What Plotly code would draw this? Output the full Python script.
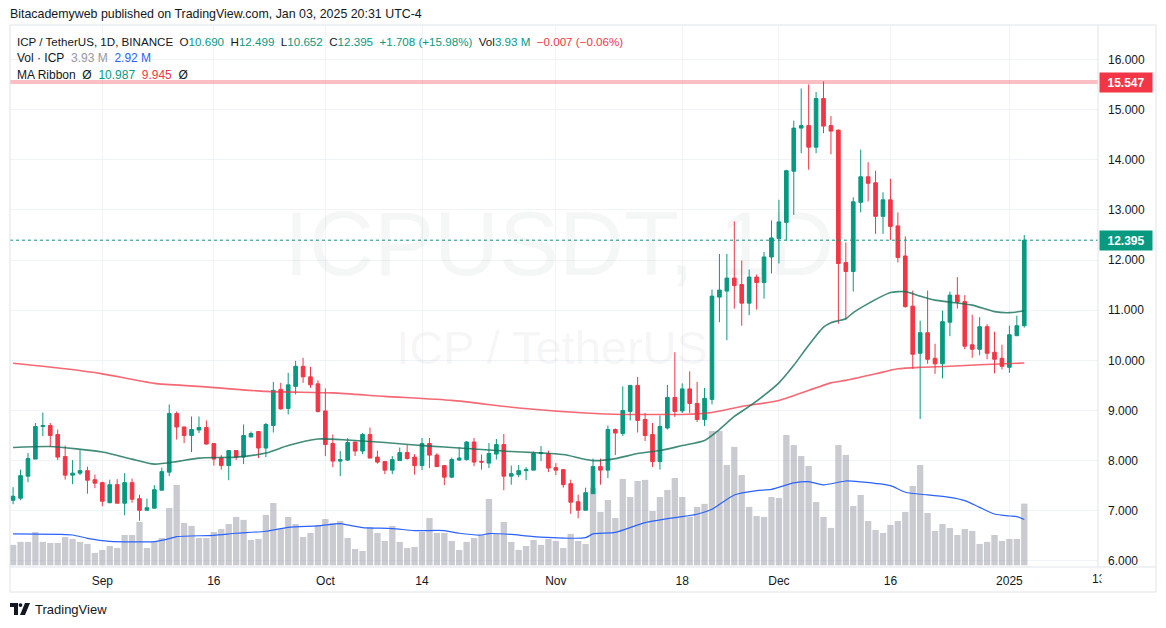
import pandas as pd
import plotly.graph_objects as go

# ---------------- data ----------------
dates = pd.date_range("2024-08-20", "2025-01-03", freq="D")

opens = [7.21, 7.25, 7.69, 8.03, 8.68, 8.70, 8.52, 8.08, 7.71, 7.75,
         7.80, 7.62, 7.56, 7.16, 7.52, 7.15, 7.56, 7.24, 7.01, 7.05,
         7.41, 7.77, 8.94, 8.67, 8.50, 8.61, 8.66, 8.34, 8.05, 7.90,
         8.20, 8.07, 8.47, 8.58, 8.25, 8.70, 9.42, 9.04, 9.48, 9.88,
         9.67, 9.53, 8.99, 8.34, 7.99, 8.01, 8.37, 8.19, 8.52, 8.07,
         7.98, 7.81, 8.00, 8.16, 8.07, 7.90, 8.34, 8.11, 7.90, 7.67,
         8.01, 8.02, 8.37, 7.985, 7.95, 8.13, 8.32, 7.69, 7.72, 7.80,
         7.81, 8.14, 8.14, 7.86, 7.82, 7.54, 7.18, 7.01, 7.34, 7.88,
         7.81, 8.62, 8.54, 8.98, 9.50, 8.82, 8.52, 7.98, 8.65, 9.26,
         8.99, 9.43, 9.14, 8.82, 9.22, 11.26, 11.38, 11.64, 11.51, 11.14,
         11.66, 11.55, 12.06, 12.43, 12.75, 13.77, 14.63, 14.68, 14.25, 15.22,
         14.68, 14.59, 11.95, 11.77, 13.15, 13.66, 13.54, 12.87, 13.20, 12.68,
         12.08, 11.08, 10.14, 10.55, 10.04, 9.93, 10.76, 11.30, 11.17, 10.31,
         10.22, 10.67, 10.16, 10.04, 9.86, 10.49, 10.690]
highs = [7.47, 7.82, 8.15, 8.75, 8.96, 8.75, 8.62, 8.30, 8.01, 8.21,
         7.88, 7.72, 7.58, 7.62, 7.63, 7.75, 7.64, 7.32, 7.24, 7.51,
         7.86, 9.12, 8.98, 8.68, 8.88, 8.88, 8.80, 8.34, 8.11, 8.20,
         8.20, 8.72, 8.58, 8.58, 8.75, 9.57, 9.55, 9.75, 9.99, 10.05,
         9.87, 9.60, 9.44, 8.52, 8.19, 8.45, 8.37, 8.55, 8.66, 8.20,
         7.98, 8.09, 8.26, 8.31, 8.13, 8.45, 8.45, 8.15, 7.90, 8.06,
         8.27, 8.39, 8.45, 8.12, 8.35, 8.43, 8.53, 7.90, 7.91, 7.87,
         8.18, 8.29, 8.20, 7.95, 7.82, 7.62, 7.32, 7.46, 8.04, 8.04,
         8.70, 8.64, 9.48, 9.50, 9.67, 8.95, 8.75, 8.90, 9.51, 10.16,
         9.54, 9.78, 9.57, 9.45, 11.41, 12.12, 12.12, 12.77, 11.99, 11.81,
         11.71, 12.16, 12.79, 13.20, 13.80, 14.78, 15.42, 15.50, 15.35, 15.56,
         14.87, 14.60, 12.35, 13.25, 14.20, 13.95, 13.78, 13.35, 13.62, 12.95,
         12.47, 11.39, 10.79, 11.39, 10.33, 10.99, 11.37, 11.66, 11.30, 10.91,
         10.86, 10.72, 10.57, 10.31, 10.69, 10.89, 12.499]
lows = [7.13, 7.21, 7.57, 8.03, 8.49, 8.27, 8.01, 7.62, 7.53, 7.71,
        7.34, 7.45, 7.09, 7.15, 7.15, 6.91, 7.16, 6.80, 7.00, 7.05,
        7.41, 7.69, 8.42, 8.35, 8.17, 8.55, 8.32, 7.90, 7.82, 7.61,
        8.01, 7.93, 8.47, 8.05, 8.07, 8.56, 9.02, 8.92, 9.32, 9.55,
        9.45, 8.96, 8.09, 7.87, 7.69, 7.99, 8.09, 8.13, 8.05, 7.94,
        7.73, 7.73, 8.00, 8.02, 7.72, 7.81, 7.85, 7.87, 7.51, 7.65,
        8.00, 8.00, 7.89, 7.82, 7.85, 8.02, 7.41, 7.52, 7.67, 7.61,
        7.81, 7.99, 7.77, 7.71, 7.46, 6.94, 6.85, 7.01, 7.34, 7.52,
        7.65, 8.11, 8.49, 8.80, 8.56, 8.39, 7.87, 7.82, 8.62, 8.87,
        8.95, 8.95, 8.77, 8.69, 9.12, 10.76, 10.40, 11.03, 10.69, 10.90,
        11.01, 11.23, 11.73, 11.93, 12.39, 12.90, 14.13, 13.80, 14.13, 14.53,
        14.11, 10.73, 10.81, 11.37, 12.95, 13.17, 12.52, 12.52, 12.40, 11.95,
        11.05, 9.83, 8.83, 9.93, 9.73, 9.64, 10.48, 11.03, 10.22, 10.05,
        10.10, 10.02, 9.74, 9.82, 9.75, 10.49, 10.652]
closes = [7.29, 7.70, 8.04, 8.68, 8.70, 8.50, 8.07, 7.71, 7.75, 7.80,
          7.61, 7.55, 7.19, 7.52, 7.15, 7.56, 7.23, 7.01, 7.06, 7.42,
          7.78, 8.94, 8.67, 8.50, 8.62, 8.66, 8.33, 8.03, 7.90, 8.20,
          8.07, 8.50, 8.54, 8.25, 8.72, 9.40, 9.03, 9.51, 9.88, 9.67,
          9.51, 8.98, 8.32, 7.99, 8.02, 8.36, 8.19, 8.52, 8.05, 7.97,
          7.81, 8.02, 8.16, 8.04, 7.90, 8.34, 8.11, 7.88, 7.67, 8.02,
          8.05, 8.37, 7.97, 7.97, 8.14, 8.32, 7.69, 7.74, 7.80, 7.82,
          8.14, 8.16, 7.85, 7.81, 7.52, 7.17, 7.01, 7.36, 7.88, 7.81,
          8.62, 8.55, 9.00, 9.50, 8.80, 8.50, 7.98, 8.68, 9.26, 8.98,
          9.43, 9.14, 8.82, 9.24, 11.28, 11.40, 11.64, 11.49, 11.14, 11.66,
          11.55, 12.06, 12.44, 12.76, 13.78, 14.63, 14.68, 14.25, 15.22, 14.67,
          14.57, 11.93, 11.77, 13.16, 13.66, 13.53, 12.87, 13.20, 12.67, 12.05,
          11.07, 10.12, 10.55, 10.02, 9.93, 10.77, 11.30, 11.16, 10.28, 10.22,
          10.67, 10.14, 10.02, 9.88, 10.51, 10.69, 12.395]
volumes_m = [1.30, 1.49, 1.49, 2.12, 1.49, 1.42, 1.42, 1.80, 1.68, 1.49,
             1.36, 0.79, 0.98, 1.23, 1.10, 1.93, 1.93, 2.76, 1.10, 1.49,
             1.74, 3.65, 5.12, 2.70, 2.51, 1.74, 1.74, 2.12, 2.31, 2.63,
             3.08, 2.89, 1.61, 1.68, 3.21, 3.97, 2.31, 3.08, 2.63, 1.80,
             2.06, 2.57, 2.95, 2.70, 2.82, 1.74, 1.04, 0.91, 2.44, 2.06,
             1.55, 2.51, 1.49, 1.10, 1.17, 2.12, 3.01, 2.06, 2.06, 1.55,
             0.98, 1.49, 1.74, 1.93, 4.23, 2.00, 2.76, 1.49, 0.98, 1.23,
             1.61, 1.30, 1.68, 1.55, 1.10, 2.00, 1.55, 1.36, 4.93, 3.40,
             4.16, 3.01, 5.50, 4.35, 5.37, 5.44, 3.46, 4.35, 4.80, 5.56,
             4.35, 3.10, 3.72, 3.91, 8.56, 8.56, 6.39, 7.54, 5.75, 3.72,
             3.14, 3.08, 4.35, 4.29, 8.30, 7.66, 6.96, 6.33, 4.03, 3.08,
             2.38, 7.66, 7.03, 3.78, 4.48, 2.82, 2.25, 2.06, 2.57, 2.82,
             3.40, 5.05, 6.39, 3.33, 2.19, 2.63, 2.38, 1.93, 2.31, 2.19,
             1.36, 1.49, 1.93, 1.55, 1.68, 1.68, 3.93]

# MA ribbon (fast, green) sampled at day index
ma_fast_idx = [0, 5, 12, 16, 19, 22, 25, 30, 34, 37, 41, 45, 50, 54, 58, 63, 67, 70, 74,
               78, 81, 84, 87, 90, 93, 95, 97, 99, 101, 103, 105, 107, 109, 110, 111, 112,
               113, 115, 118, 120, 122, 124, 126, 129, 132, 134, 136]
ma_fast_val = [8.26, 8.28, 8.17, 8.03, 7.93, 7.98, 8.05, 8.07, 8.15, 8.30, 8.43, 8.41, 8.36,
               8.31, 8.27, 8.22, 8.18, 8.16, 8.12, 8.00, 8.04, 8.14, 8.20, 8.30, 8.40, 8.62,
               8.88, 9.08, 9.30, 9.55, 9.90, 10.30, 10.66, 10.75, 10.79, 10.83, 10.95, 11.13,
               11.35, 11.37, 11.28, 11.20, 11.16, 11.10, 10.97, 10.95, 10.987]
# MA ribbon (slow, red)
ma_slow_idx = [0, 7, 12, 19, 25, 34, 43, 50, 59, 68, 77, 82, 86, 90, 94, 98, 103, 110,
               112, 116, 119, 122, 126, 130, 136]
ma_slow_val = [9.94, 9.83, 9.73, 9.54, 9.48, 9.38, 9.35, 9.28, 9.20, 9.05, 8.95, 8.92, 8.92,
               8.92, 8.96, 9.08, 9.20, 9.55, 9.60, 9.73, 9.83, 9.86, 9.88, 9.91, 9.945]
# Volume MA (blue), millions
vol_ma_idx = [0, 8, 10, 13, 19, 21, 22, 27, 30, 34, 37, 41, 44, 45, 47, 51, 54, 58, 60, 63,
              64, 67, 70, 77, 78, 81, 85, 89, 92, 94, 97, 100, 102, 105, 107, 109, 112, 114,
              118, 120, 123, 126, 128, 130, 132, 134, 135, 136]
vol_ma_val = [2.00, 1.93, 1.72, 1.53, 1.51, 1.70, 1.83, 1.91, 2.04, 2.17, 2.42, 2.51, 2.65,
              2.57, 2.40, 2.34, 2.21, 2.21, 2.04, 1.93, 2.02, 1.97, 1.83, 1.76, 2.00, 2.10,
              2.72, 3.04, 3.25, 3.57, 4.48, 4.76, 4.84, 5.25, 5.33, 5.12, 5.37, 5.31, 5.07,
              4.65, 4.48, 4.33, 4.12, 3.69, 3.27, 3.14, 3.10, 2.92]

x_tick_dates = ["2024-09-01", "2024-09-16", "2024-10-01", "2024-10-14", "2024-11-01",
                "2024-11-18", "2024-12-01", "2024-12-16", "2025-01-01"]
x_tick_text = ["Sep", "16", "Oct", "14", "Nov", "18", "Dec", "16", "2025"]
price_ticks = [6, 7, 8, 9, 10, 11, 12, 13, 14, 15, 16]
last_price = 12.395
level_price = 15.547

# ---------------- geometry / style ----------------
W, H = 1166, 628
PL, PR, PT, PB = 10, 1098, 25, 567
FR_R, FR_B = 1156, 592
X0_PX, DAY_PX = 13.1, 7.435
Y10_PX, PX_PER_UNIT = 360.3, 50.15
VOL_BASE, VOL_PX = 565.3, 15.7

GREEN = "#089981"
RED = "#f23645"
TXT = "#131722"
GRID = "#f0f3fa"
BORDER = "#e0e3eb"
FONT = "Liberation Sans, Arial, sans-serif"

def px_date(x):
    return dates[0] + pd.Timedelta(days=(x - X0_PX) / DAY_PX)

def y_price(y):
    return 10 - (y - Y10_PX) / PX_PER_UNIT

def y_vol(y):
    return (VOL_BASE - y) / VOL_PX

def xp(x):
    return x / W

def yp(y):
    return 1 - y / H

fig = go.Figure()

# watermark (behind everything)
fig.add_trace(go.Scatter(x=[px_date(559)], y=[y_vol(252)], mode="text", text=["ICPUSDT, 1D"],
                         textfont=dict(family=FONT, size=90, color="rgba(120,123,134,0.07)"),
                         hoverinfo="skip", yaxis="y"))
fig.add_trace(go.Scatter(x=[px_date(552)], y=[y_vol(352)], mode="text", text=["ICP / TetherUS"],
                         textfont=dict(family=FONT, size=47, color="rgba(120,123,134,0.07)"),
                         hoverinfo="skip", yaxis="y"))

# volume
fig.add_trace(go.Bar(x=dates, y=volumes_m, marker=dict(color="rgba(149,152,161,0.5)", line_width=0),
                     yaxis="y", hoverinfo="skip"))
fig.add_trace(go.Scatter(x=[dates[i] for i in vol_ma_idx], y=vol_ma_val, mode="lines",
                         line=dict(color="#2962ff", width=1.2, shape="spline", smoothing=0.6),
                         yaxis="y", hoverinfo="skip"))

# MA ribbon
fig.add_trace(go.Scatter(x=[dates[i] for i in ma_slow_idx], y=ma_slow_val, mode="lines",
                         line=dict(color="rgba(242,54,69,0.75)", width=1.6, shape="spline", smoothing=0.6),
                         yaxis="y2", hoverinfo="skip"))
fig.add_trace(go.Scatter(x=[dates[i] for i in ma_fast_idx], y=ma_fast_val, mode="lines",
                         line=dict(color="rgba(18,110,88,0.8)", width=1.6, shape="spline", smoothing=0.6),
                         yaxis="y2", hoverinfo="skip"))

# candles
fig.add_trace(go.Candlestick(x=dates, open=opens, high=highs, low=lows, close=closes,
                             increasing=dict(line=dict(color=GREEN, width=1), fillcolor=GREEN),
                             decreasing=dict(line=dict(color=RED, width=1), fillcolor=RED),
                             whiskerwidth=0, yaxis="y2", hoverinfo="skip"))

shapes = []
# price level line and last price line
shapes.append(dict(type="line", xref="paper", yref="y2", x0=xp(PL), x1=xp(PR), y0=level_price, y1=level_price,
                   line=dict(color="rgba(242,54,69,0.32)", width=4), layer="above"))
shapes.append(dict(type="line", xref="paper", yref="y2", x0=xp(PL), x1=xp(PR), y0=last_price, y1=last_price,
                   line=dict(color=GREEN, width=1, dash="dot"), layer="above"))
# frame
for (x0, y0, x1, y1) in [(PL, PT, FR_R, PT), (PL, PT, PL, FR_B), (FR_R, PT, FR_R, FR_B),
                         (PL, FR_B, FR_R, FR_B), (PR, PT, PR, PB), (PL, PB, FR_R, PB)]:
    shapes.append(dict(type="line", xref="paper", yref="paper", x0=xp(x0), x1=xp(x1), y0=yp(y0), y1=yp(y1),
                       line=dict(color=BORDER, width=1), layer="above"))
# TradingView logo icon
def path(pts):
    return "M " + " L ".join(f"{xp(a)},{yp(b)}" for a, b in pts) + " Z"
shapes.append(dict(type="path", xref="paper", yref="paper",
                   path=path([(10, 603), (18, 603), (18, 615), (14, 615), (14, 607), (10, 607)]),
                   fillcolor=TXT, line_width=0, layer="above"))
shapes.append(dict(type="circle", xref="paper", yref="paper", x0=xp(18.6), x1=xp(22.4),
                   y0=yp(607), y1=yp(603.2), fillcolor=TXT, line_width=0, layer="above"))
shapes.append(dict(type="path", xref="paper", yref="paper",
                   path=path([(25, 603), (30, 603), (25, 615), (20, 615)]),
                   fillcolor=TXT, line_width=0, layer="above"))

annotations = []
annotations.append(dict(xref="paper", yref="paper", x=xp(8), y=yp(14), xanchor="left", yanchor="middle",
                        showarrow=False, text="Bitacademyweb published on TradingView.com, Jan 03, 2025 20:31 UTC-4",
                        font=dict(family=FONT, size=12.4, color=TXT)))
def c(t, col):
    return f"<span style='color:{col}'>{t}</span>"
sp = "&nbsp;&nbsp;"
line1 = ("ICP / TetherUS, 1D, BINANCE" + sp + "O" + c("10.690", GREEN) + sp + "H" + c("12.499", GREEN) + sp +
         "L" + c("10.652", GREEN) + sp + "C" + c("12.395", GREEN) + sp + c("+1.708 (+15.98%)", GREEN) + sp +
         "Vol" + c("3.93 M", GREEN) + sp + c("\u22120.007 (\u22120.06%)", RED))
line2 = "Vol · ICP" + sp + c("3.93 M", "#9598a1") + sp + c("2.92 M", "#2962ff")
line3 = "MA Ribbon" + sp + "Ø" + sp + c("10.987", GREEN) + sp + c("9.945", RED) + sp + "Ø"
for txt, yy, fs in [(line1, 41, 11.6), (line2, 58, 12), (line3, 75, 12)]:
    annotations.append(dict(xref="paper", yref="paper", x=xp(15), y=yp(yy), xanchor="left", yanchor="middle",
                            showarrow=False, text=txt, font=dict(family=FONT, size=fs, color=TXT)))
# price tags
for val, col in [(level_price, RED), (last_price, GREEN)]:
    annotations.append(dict(xref="paper", yref="y2", x=xp(PR + 1), y=val, xanchor="left", yanchor="middle",
                            showarrow=False, text=f"<b>{val:.3f}</b>", bgcolor=col, width=48, height=15,
                            borderpad=2, align="center", font=dict(family=FONT, size=12, color="white")))
# clipped "13" time label
annotations.append(dict(xref="paper", yref="paper", x=xp(1099), y=yp(579), xanchor="center", yanchor="middle",
                        showarrow=False, text="13", font=dict(family=FONT, size=12, color=TXT)))
annotations.append(dict(xref="paper", yref="paper", x=xp(1101), y=yp(579), xanchor="left", yanchor="middle",
                        showarrow=False, text=" ", bgcolor="white", width=50, height=18, borderpad=0))
# logo text
annotations.append(dict(xref="paper", yref="paper", x=xp(33), y=yp(609), xanchor="left", yanchor="middle",
                        showarrow=False, text="TradingView", font=dict(family=FONT, size=13, color=TXT)))

fig.update_layout(
    width=W, height=H, margin=dict(l=0, r=0, t=0, b=0),
    paper_bgcolor="white", plot_bgcolor="white", showlegend=False, hovermode=False,
    bargap=0.15, boxgap=0.3,
    font=dict(family=FONT, size=12, color=TXT),
    xaxis=dict(type="date", domain=[xp(PL), xp(PR)], range=[px_date(PL), px_date(PR)],
               tickmode="array", tickvals=x_tick_dates, ticktext=x_tick_text,
               showgrid=True, gridcolor=GRID, gridwidth=1, ticks="", ticklabelstandoff=5,
               showline=False, zeroline=False, rangeslider=dict(visible=False),
               tickfont=dict(family=FONT, size=12, color=TXT), fixedrange=True),
    yaxis=dict(domain=[yp(PB), yp(PT)], range=[y_vol(PB), y_vol(PT)], visible=False,
               showgrid=False, zeroline=False, fixedrange=True),
    yaxis2=dict(overlaying="y", side="right", anchor="x", range=[y_price(PB), y_price(PT)],
                tickmode="array", tickvals=price_ticks, ticktext=[f"{v:.3f}" for v in price_ticks],
                showgrid=True, gridcolor=GRID, gridwidth=1, ticks="", ticklabelstandoff=9,
                zeroline=False, showline=False,
                tickfont=dict(family=FONT, size=12, color=TXT), fixedrange=True),
    shapes=shapes, annotations=annotations,
)

fig.write_html("out.html")
